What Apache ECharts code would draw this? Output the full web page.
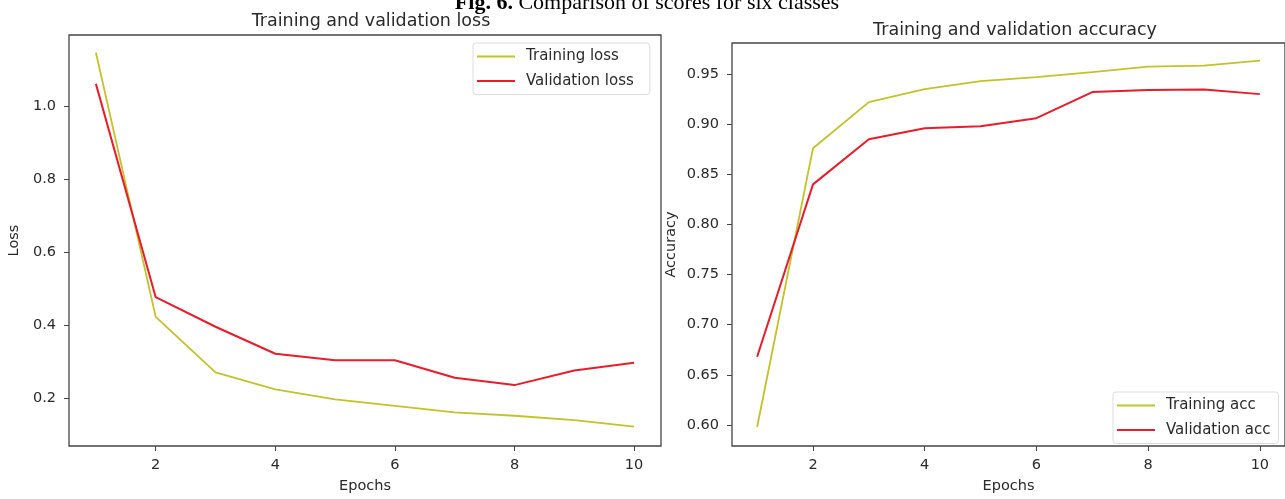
<!DOCTYPE html>
<html><head><meta charset="utf-8">
<script src="https://cdn.jsdelivr.net/npm/echarts@6/dist/echarts.min.js"></script>
<style>html,body{margin:0;padding:0;background:#fff}#c{width:1285px;height:499px}</style>
</head><body><div id="c"></div>
<script>
const epochs = [1,2,3,4,5,6,7,8,9,10];
const trainingLoss = [1.148,0.423,0.271,0.224,0.197,0.179,0.161,0.152,0.140,0.122];
const validationLoss = [1.062,0.477,0.396,0.322,0.304,0.304,0.256,0.236,0.276,0.297];
const trainingAcc = [0.598,0.876,0.922,0.935,0.943,0.947,0.952,0.9575,0.9585,0.9635];
const validationAcc = [0.668,0.840,0.885,0.896,0.898,0.906,0.932,0.934,0.9345,0.930];
const xTicks = [2,4,6,8,10];
const lossTicks = [0.2,0.4,0.6,0.8,1.0];
const accTicks = [0.60,0.65,0.70,0.75,0.80,0.85,0.90,0.95];

const yellow = '#c3c22b', red = '#e81c2a', txt = '#2a2a2a', frame = '#444';
const font = 'DejaVu Sans';
const pairs = a => epochs.map((e,i)=>[e,a[i]]);

function xAxis(gi){return {type:'value',gridIndex:gi,min:0.55,max:10.45,
  name:'Epochs',nameLocation:'middle',nameGap:33,nameTextStyle:{color:txt,fontSize:14.5,fontFamily:font},
  axisLine:{show:false},splitLine:{show:false},
  axisTick:{show:true,length:5,customValues:xTicks,lineStyle:{color:frame}},
  axisLabel:{customValues:xTicks,margin:12,color:txt,fontSize:14.5,fontFamily:font}};}
function yAxis(gi,min,max,ticks,name,dec,gap){return {type:'value',gridIndex:gi,min:min,max:max,
  name:name,nameLocation:'middle',nameGap:gap,nameTextStyle:{color:txt,fontSize:14.5,fontFamily:font},
  axisLine:{show:false},splitLine:{show:false},
  axisTick:{show:true,length:5,customValues:ticks,lineStyle:{color:frame}},
  axisLabel:{customValues:ticks,margin:13,color:txt,fontSize:14.5,fontFamily:font,formatter:v=>v.toFixed(dec)}};}
function legend(names,left,top,padR){return {data:names,orient:'vertical',left:left,top:top,
  icon:'rect',itemWidth:38,itemHeight:2,itemGap:9.5,padding:[6,padR,6,4],backgroundColor:'rgba(255,255,255,0.8)',
  borderColor:'#ddd',borderWidth:1,borderRadius:3,
  textStyle:{color:txt,fontSize:15,fontFamily:font,padding:[0,0,0,6]}};}

const chart = echarts.init(document.getElementById('c'),null,{renderer:'canvas'});
chart.setOption({
  animation:false,
  backgroundColor:'#fff',
  title:[
    {text:'{b|Fig. 6.} Comparison of scores for six classes',left:642,textAlign:'center',top:-13,
     textStyle:{fontFamily:'Liberation Serif',fontSize:22,fontWeight:'normal',color:'#000',
       rich:{b:{fontFamily:'Liberation Serif',fontSize:22,fontWeight:'bold',color:'#000'}}}},
    {text:'Training and validation loss',left:366,textAlign:'center',top:7,
     textStyle:{fontFamily:font,fontSize:17.5,fontWeight:'normal',color:txt}},
    {text:'Training and validation accuracy',left:1010,textAlign:'center',top:16,
     textStyle:{fontFamily:font,fontSize:17.5,fontWeight:'normal',color:txt}}
  ],
  grid:[
    {left:69,top:35,width:592,height:415,show:true,borderColor:frame,borderWidth:1.3,backgroundColor:'#fff'},
    {left:732,top:43,width:555,height:407,show:true,borderColor:frame,borderWidth:1.3,backgroundColor:'#fff'}
  ],
  xAxis:[xAxis(0),xAxis(1)],
  yAxis:[yAxis(0,0.069,1.196,lossTicks,'Loss',1,47),yAxis(1,0.579,0.981,accTicks,'Accuracy',2,53)],
  legend:[
    legend(['Training loss','Validation loss'],473,43,16),
    legend(['Training acc','Validation acc'],1113,392,8)
  ],
  series:[
    {name:'Training loss',type:'line',xAxisIndex:0,yAxisIndex:0,data:pairs(trainingLoss),symbol:'none',color:yellow,lineStyle:{width:1.8,color:yellow}},
    {name:'Validation loss',type:'line',xAxisIndex:0,yAxisIndex:0,data:pairs(validationLoss),symbol:'none',color:red,lineStyle:{width:2,color:red}},
    {name:'Training acc',type:'line',xAxisIndex:1,yAxisIndex:1,data:pairs(trainingAcc),symbol:'none',color:yellow,lineStyle:{width:1.8,color:yellow}},
    {name:'Validation acc',type:'line',xAxisIndex:1,yAxisIndex:1,data:pairs(validationAcc),symbol:'none',color:red,lineStyle:{width:2,color:red}}
  ]
});
</script></body></html>
